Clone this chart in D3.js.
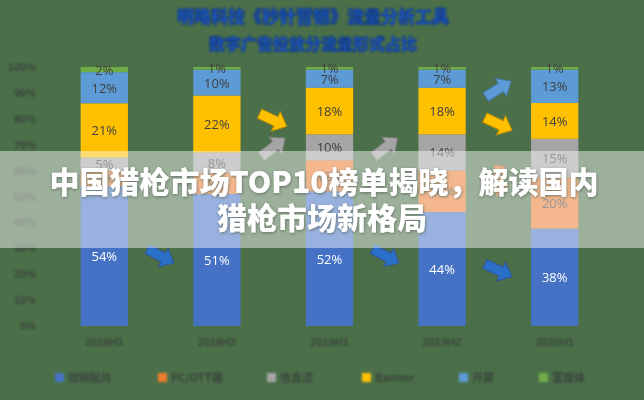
<!DOCTYPE html>
<html><head><meta charset="utf-8">
<script src="https://cdn.jsdelivr.net/npm/d3@7/dist/d3.min.js"></script>
<style>
html,body{margin:0;padding:0;background:#4b7049;}
svg{display:block;}
</style></head>
<body>
<svg id="c" width="644" height="400"></svg>
<script>
const titleLines = ["明略科技《秒针营销》流量分析工具", "数字广告投放分流量形式占比"];
const bannerLines = ["中国猎枪市场TOP10榜单揭晓，解读国内", "猎枪市场新格局"];
const categories = ["2018H1", "2018H2", "2019H1", "2019H2", "2020H1"];
const seriesNames = ["视频贴片", "PC/OTT端", "信息流", "Banner", "开屏", "富媒体"];
const seriesColors = ["#4472C4", "#ED7D31", "#A5A5A5", "#FFC000", "#5B9BD5", "#70AD47"];
const blueVals = [54, 51, 52, 44, 38];
const orangeVals = [6, 8, 12, 16, 20];
const grayVals = [5, 8, 10, 14, 15];
const yellowVals = [21, 22, 18, 18, 14];
const lightBlueVals = [12, 10, 7, 7, 13];
const greenVals = [2, 1, 1, 1, 1];
const yTicks = [0, 0.1, 0.2, 0.3, 0.4, 0.5, 0.6, 0.7, 0.8, 0.9, 1];
// decorative trend arrows: [gap index (between bars i and i+1), level (share), angle, series index]
const arrowGap = [0, 2, 3, 1, 3, 3, 1, 2, 3];
const arrowLevel = [0.27, 0.27, 0.215, 0.795, 0.78, 0.915, 0.69, 0.69, 0.56];
const arrowAngle = [28, 28, 25, 25, 25, -32, -38, -38, 95];
const arrowSeries = [0, 0, 0, 3, 3, 4, 2, 2, 1];

const seriesVals = [blueVals, orangeVals, grayVals, yellowVals, lightBlueVals, greenVals];
const rows = categories.map((c, i) => {
  const r = {cat: c};
  seriesNames.forEach((s, k) => r[s] = seriesVals[k][i]);
  return r;
});

const svg = d3.select("#c");
const defs = svg.append("defs");
defs.append("filter").attr("id", "blurHeavy").attr("x", "-10%").attr("y", "-30%").attr("width", "120%").attr("height", "160%")
  .append("feGaussianBlur").attr("stdDeviation", 1.3);
defs.append("filter").attr("id", "blurLight").attr("x", "-10%").attr("y", "-10%").attr("width", "120%").attr("height", "120%")
  .append("feGaussianBlur").attr("stdDeviation", 0.45);
const sh = defs.append("filter").attr("id", "shadow").attr("x", "-10%").attr("y", "-30%").attr("width", "120%").attr("height", "160%");
sh.append("feDropShadow").attr("dx", 0.5).attr("dy", 1).attr("stdDeviation", 1.5).attr("flood-color", "#5a6a5a").attr("flood-opacity", 0.85);

svg.append("rect").attr("width", 644).attr("height", 400).attr("fill", "#4b7049");

const x = d3.scaleBand().domain(categories).range([48, 611]).paddingInner(0.58).paddingOuter(0.29);
const y = d3.scaleLinear().domain([0, 1]).range([326, 67]);

const stack = d3.stack().keys(seriesNames).offset(d3.stackOffsetExpand);
const stacked = stack(rows);

// title
const tg = svg.append("g").attr("filter", "url(#blurHeavy)");
tg.selectAll("text").data(titleLines).join("text")
  .attr("x", 313).attr("y", (d, i) => 23 + i * 27)
  .attr("text-anchor", "middle")
  .attr("font-family", "Noto Sans CJK SC").attr("font-weight", 900).attr("font-size", (d, i) => i === 0 ? 17 : 16)
  .attr("fill", "#1d58c4").attr("stroke", "#163a78").attr("stroke-width", 0.9)
  .text(d => d);

// y axis labels
const yg = svg.append("g").attr("filter", "url(#blurHeavy)");
yg.selectAll("text").data(yTicks).join("text")
  .attr("x", 36).attr("y", d => y(d) + 4)
  .attr("text-anchor", "end")
  .attr("font-family", "Liberation Sans, Arial").attr("font-size", 11).attr("font-weight", 700)
  .attr("fill", "#3a453c")
  .text(d3.format(".0%"));

// bars
const bg = svg.append("g").attr("filter", "url(#blurLight)");
const layer = bg.selectAll("g.layer").data(stacked).join("g").attr("class", "layer")
  .attr("fill", (d, i) => seriesColors[i]);
layer.selectAll("rect").data(d => d.map(p => ({p, key: d.key}))).join("rect")
  .attr("x", d => x(d.p.data.cat))
  .attr("width", x.bandwidth())
  .attr("y", d => y(d.p[1]))
  .attr("height", d => y(d.p[0]) - y(d.p[1]));

// bar labels
const lg = svg.append("g").attr("filter", "url(#blurLight)");
stacked.forEach((s, k) => {
  lg.selectAll(null).data(s).join("text")
    .attr("x", d => x(d.data.cat) + x.bandwidth() / 2)
    .attr("y", d => (y(d[0]) + y(d[1])) / 2 + 5)
    .attr("text-anchor", "middle")
    .attr("font-family", "Open Sans, Liberation Sans").attr("font-size", 13)
    .attr("fill", k === 0 ? "#ffffff" : "#404040")
    .text(d => d.data[s.key] + "%");
});

// axis baseline
svg.append("line").attr("x1", x.range()[0]).attr("x2", x.range()[1])
  .attr("y1", y(0) + 1.5).attr("y2", y(0) + 1.5)
  .attr("stroke", "#cde8c8").attr("stroke-width", 3).attr("filter", "url(#blurLight)");

// x labels
const xg = svg.append("g").attr("filter", "url(#blurHeavy)");
xg.selectAll("text").data(categories).join("text")
  .attr("x", d => x(d) + x.bandwidth() / 2).attr("y", 346)
  .attr("text-anchor", "middle")
  .attr("font-family", "Liberation Sans, Arial").attr("font-size", 11).attr("font-weight", 700)
  .attr("fill", "#3a453c")
  .text(d => d);

// legend
const legX = [55, 158, 267, 362, 459, 539];
const legG = svg.append("g").attr("filter", "url(#blurHeavy)");
const li = legG.selectAll("g").data(seriesNames).join("g")
  .attr("transform", (d, i) => `translate(${legX[i]},378)`);
li.append("rect").attr("x", 0).attr("y", -5).attr("width", 9).attr("height", 9)
  .attr("fill", (d, i) => seriesColors[i]);
li.append("text").attr("x", 13).attr("y", 4)
  .attr("font-family", "Noto Sans CJK SC").attr("font-size", 11).attr("font-weight", 700)
  .attr("fill", "#3a453c").text(d => d);

// decorative arrows
const arrowPath = "M-15,-5 L3,-5 L3,-10.5 L15,0 L3,10.5 L3,5 L-15,5 Z";
const ag = svg.append("g").attr("filter", "url(#blurLight)");
arrowGap.forEach((g, i) => {
  const cx = (x(categories[g]) + x.bandwidth() + x(categories[g + 1])) / 2;
  const cy = y(arrowLevel[i]);
  const col = d3.color(seriesColors[arrowSeries[i]]);
  ag.append("path").attr("d", arrowPath)
    .attr("transform", `translate(${cx},${cy}) rotate(${arrowAngle[i]})`)
    .attr("fill", arrowSeries[i] === 0 ? "#2a6fc9" : col.formatHex())
    .attr("stroke", col.darker(0.8).formatHex()).attr("stroke-width", 1);
});

// banner overlay
svg.append("rect").attr("x", 0).attr("y", 151).attr("width", 644).attr("height", 97)
  .attr("fill", "#ffffff").attr("fill-opacity", 0.45);
svg.append("g").selectAll("text").data(bannerLines).join("text")
  .attr("x", (d, i) => i === 0 ? 324 : 322).attr("y", (d, i) => 193 + i * 36)
  .attr("text-anchor", "middle")
  .attr("font-family", "Noto Sans CJK SC").attr("font-weight", 900).attr("font-size", 30)
  .attr("fill", "#ffffff").attr("filter", "url(#shadow)")
  .text(d => d);
</script>
</body></html>
